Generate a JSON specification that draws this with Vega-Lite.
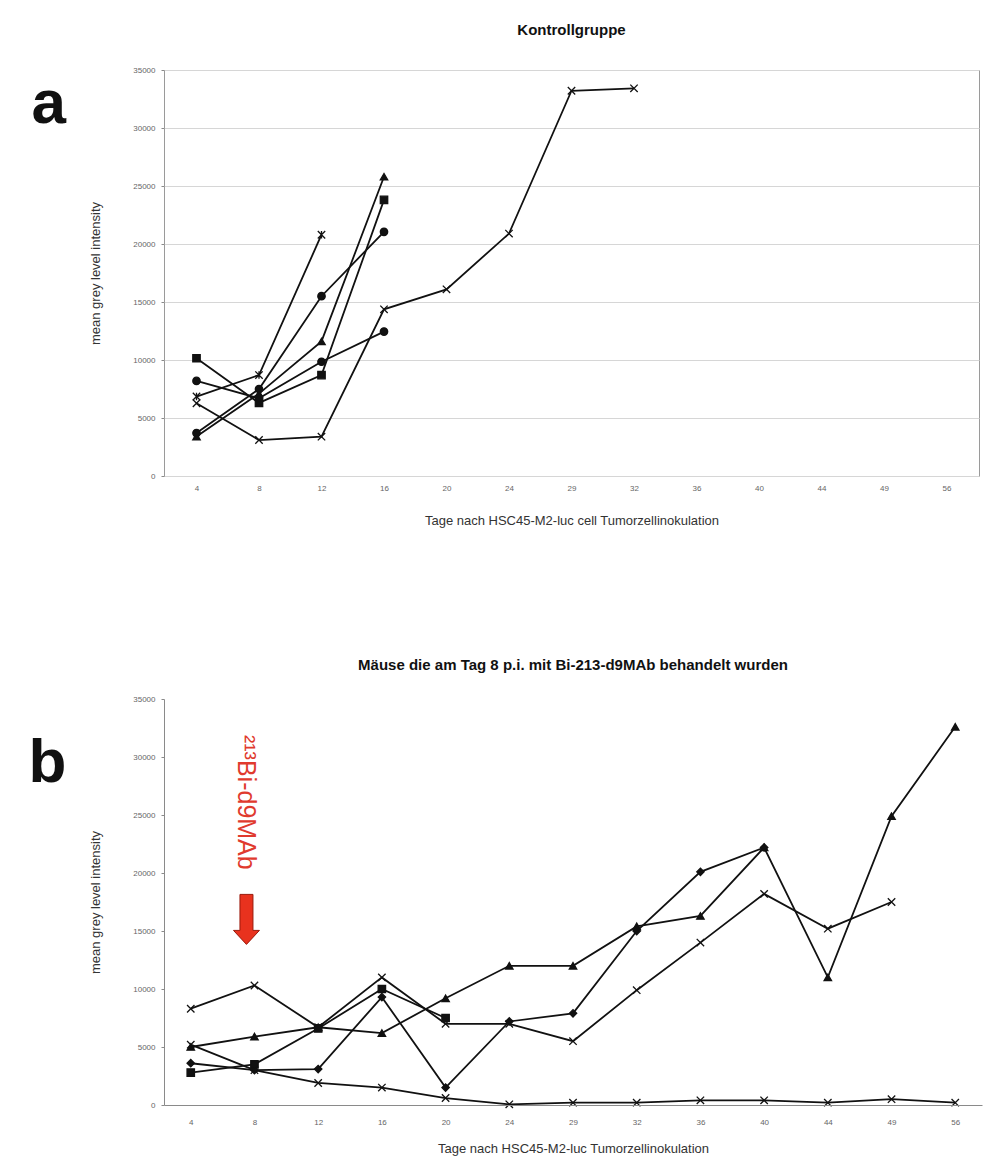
{
  "$schema": "https://vega.github.io/schema/vega-lite/v6.json",
  "background": "white",
  "padding": {"left": 28, "top": 22, "right": 2, "bottom": 5},
  "spacing": 130,
  "config": {
    "font": "Liberation Sans",
    "view": {"stroke": null},
    "axis": {
      "labelFont": "Liberation Sans", "labelFontSize": 8, "labelColor": "#666",
      "titleFont": "Liberation Sans", "titleFontSize": 13, "titleFontWeight": "normal", "titleColor": "#333",
      "gridColor": "#d6d6d6", "domainColor": "#8a8a8a", "tickColor": "#8a8a8a"
    },
    "title": {"font": "Liberation Sans", "fontSize": 15, "fontWeight": "bold", "color": "#111"}
  },
  "datasets": {
    "kontroll": [
      {"maus": "K1", "tag": 4, "wert": 10150}, {"maus": "K1", "tag": 8, "wert": 6300}, {"maus": "K1", "tag": 12, "wert": 8700}, {"maus": "K1", "tag": 16, "wert": 23800},
      {"maus": "K2", "tag": 4, "wert": 8200}, {"maus": "K2", "tag": 8, "wert": 6700}, {"maus": "K2", "tag": 12, "wert": 9850}, {"maus": "K2", "tag": 16, "wert": 12450},
      {"maus": "K3", "tag": 4, "wert": 6850}, {"maus": "K3", "tag": 8, "wert": 8700}, {"maus": "K3", "tag": 12, "wert": 20800},
      {"maus": "K4", "tag": 4, "wert": 3400}, {"maus": "K4", "tag": 8, "wert": 7100}, {"maus": "K4", "tag": 12, "wert": 11600}, {"maus": "K4", "tag": 16, "wert": 25800},
      {"maus": "K5", "tag": 4, "wert": 3700}, {"maus": "K5", "tag": 8, "wert": 7500}, {"maus": "K5", "tag": 12, "wert": 15500}, {"maus": "K5", "tag": 16, "wert": 21050},
      {"maus": "K6", "tag": 4, "wert": 6270}, {"maus": "K6", "tag": 8, "wert": 3100}, {"maus": "K6", "tag": 12, "wert": 3390}, {"maus": "K6", "tag": 16, "wert": 14370},
      {"maus": "K6", "tag": 20, "wert": 16090}, {"maus": "K6", "tag": 24, "wert": 20900}, {"maus": "K6", "tag": 29, "wert": 33210}, {"maus": "K6", "tag": 32, "wert": 33420}
    ],
    "behandelt": [
      {"maus": "B1", "tag": 4, "wert": 8300}, {"maus": "B1", "tag": 8, "wert": 10300}, {"maus": "B1", "tag": 12, "wert": 6700}, {"maus": "B1", "tag": 16, "wert": 11000},
      {"maus": "B1", "tag": 20, "wert": 7000}, {"maus": "B1", "tag": 24, "wert": 7000}, {"maus": "B1", "tag": 29, "wert": 5500}, {"maus": "B1", "tag": 32, "wert": 9900},
      {"maus": "B1", "tag": 36, "wert": 14000}, {"maus": "B1", "tag": 40, "wert": 18200}, {"maus": "B1", "tag": 44, "wert": 15200}, {"maus": "B1", "tag": 49, "wert": 17500},
      {"maus": "B2", "tag": 4, "wert": 5000}, {"maus": "B2", "tag": 8, "wert": 5900}, {"maus": "B2", "tag": 12, "wert": 6700}, {"maus": "B2", "tag": 16, "wert": 6200},
      {"maus": "B2", "tag": 20, "wert": 9200}, {"maus": "B2", "tag": 24, "wert": 12000}, {"maus": "B2", "tag": 29, "wert": 12000}, {"maus": "B2", "tag": 32, "wert": 15400},
      {"maus": "B2", "tag": 36, "wert": 16300}, {"maus": "B2", "tag": 40, "wert": 22200}, {"maus": "B2", "tag": 44, "wert": 11000}, {"maus": "B2", "tag": 49, "wert": 24900},
      {"maus": "B2", "tag": 56, "wert": 32600},
      {"maus": "B3", "tag": 4, "wert": 3600}, {"maus": "B3", "tag": 8, "wert": 3000}, {"maus": "B3", "tag": 12, "wert": 3100}, {"maus": "B3", "tag": 16, "wert": 9300},
      {"maus": "B3", "tag": 20, "wert": 1500}, {"maus": "B3", "tag": 24, "wert": 7200}, {"maus": "B3", "tag": 29, "wert": 7900}, {"maus": "B3", "tag": 32, "wert": 15000},
      {"maus": "B3", "tag": 36, "wert": 20100}, {"maus": "B3", "tag": 40, "wert": 22200},
      {"maus": "B4", "tag": 4, "wert": 2800}, {"maus": "B4", "tag": 8, "wert": 3500}, {"maus": "B4", "tag": 12, "wert": 6600}, {"maus": "B4", "tag": 16, "wert": 10000},
      {"maus": "B4", "tag": 20, "wert": 7500},
      {"maus": "B5", "tag": 4, "wert": 5200}, {"maus": "B5", "tag": 8, "wert": 3000}, {"maus": "B5", "tag": 12, "wert": 1900}, {"maus": "B5", "tag": 16, "wert": 1500},
      {"maus": "B5", "tag": 20, "wert": 600}, {"maus": "B5", "tag": 24, "wert": 60}, {"maus": "B5", "tag": 29, "wert": 200}, {"maus": "B5", "tag": 32, "wert": 200},
      {"maus": "B5", "tag": 36, "wert": 400}, {"maus": "B5", "tag": 40, "wert": 400}, {"maus": "B5", "tag": 44, "wert": 200}, {"maus": "B5", "tag": 49, "wert": 500},
      {"maus": "B5", "tag": 56, "wert": 200}
    ]
  },
  "vconcat": [
    {
      "width": 815,
      "height": 406,
      "title": {"text": "Kontrollgruppe", "offset": 28},
      "view": {"stroke": "#9a9a9a"},
      "data": {"name": "kontroll"},
      "encoding": {
        "x": {
          "field": "tag", "type": "ordinal",
          "scale": {"type": "point", "domain": [4, 8, 12, 16, 20, 24, 29, 32, 36, 40, 44, 49, 56], "padding": 0.52},
          "axis": {"title": "Tage nach HSC45-M2-luc cell Tumorzellinokulation", "labelAngle": 0, "labelPadding": 8, "titlePadding": 22, "ticks": false, "grid": false, "domain": false}
        },
        "y": {
          "field": "wert", "type": "quantitative",
          "scale": {"domain": [0, 35000], "nice": false},
          "axis": {"title": "mean grey level intensity", "values": [0, 5000, 10000, 15000, 20000, 25000, 30000, 35000], "format": "d", "tickSize": 3, "labelPadding": 6, "titlePadding": 30, "domain": false}
        }
      },
      "layer": [
        {"mark": {"type": "line", "color": "#111", "strokeWidth": 1.8}, "encoding": {"detail": {"field": "maus"}}},
        {
          "mark": {"type": "point", "filled": true, "color": "#111", "stroke": "#111", "strokeWidth": 1.3, "size": 55, "opacity": 1},
          "encoding": {
            "shape": {
              "field": "maus", "legend": null,
              "scale": {
                "domain": ["K1", "K2", "K3", "K4", "K5", "K6", "B1", "B2", "B3", "B4", "B5"],
                "range": ["square", "circle", "M-1,-1L1,1M-1,1L1,-1M0,-1L0,1", "triangle-up", "circle", "M-1,-1L1,1M-1,1L1,-1", "M-1,-1L1,1M-1,1L1,-1", "triangle-up", "diamond", "square", "M-1,-1L1,1M-1,1L1,-1"]
              }
            },
            "y": {
              "field": "wert", "type": "quantitative",
              "scale": {"domain": [0, 35000], "nice": false},
              "axis": {"orient": "left", "title": "a", "titleAngle": 0, "titleFontSize": 62, "titleFontWeight": "bold", "titleColor": "#111", "titleX": -133, "titleY": 52, "titleAlign": "left", "titleBaseline": "alphabetic", "labels": false, "ticks": false, "domain": false, "grid": false}
            }
          }
        }
      ],
      "resolve": {"axis": {"y": "independent"}}
    },
    {
      "width": 818,
      "height": 406,
      "title": {"text": "Mäuse die am Tag 8 p.i. mit Bi-213-d9MAb behandelt wurden", "offset": 22},
      "data": {"name": "behandelt"},
      "encoding": {
        "x": {
          "field": "tag", "type": "ordinal",
          "scale": {"type": "point", "domain": [4, 8, 12, 16, 20, 24, 29, 32, 36, 40, 44, 49, 56], "padding": 0.42},
          "axis": {"title": "Tage nach  HSC45-M2-luc Tumorzellinokulation", "labelAngle": 0, "labelPadding": 13, "titlePadding": 16, "ticks": false, "grid": false, "domain": true}
        },
        "y": {
          "field": "wert", "type": "quantitative",
          "scale": {"domain": [0, 35000], "nice": false},
          "axis": {"title": "mean grey level intensity", "values": [0, 5000, 10000, 15000, 20000, 25000, 30000, 35000], "format": "d", "tickSize": 3, "labelPadding": 6, "titlePadding": 30, "domain": true}
        }
      },
      "layer": [
        {
          "data": {"values": [{"tag": 8, "oben": 32000, "unten": 19000}]},
          "mark": {"type": "rect", "color": "white", "width": 74, "xOffset": -8},
          "encoding": {
            "y": {"field": "oben", "type": "quantitative", "axis": null},
            "y2": {"field": "unten"}
          }
        },
        {"mark": {"type": "line", "color": "#111", "strokeWidth": 1.8}, "encoding": {"detail": {"field": "maus"}}},
        {
          "mark": {"type": "point", "filled": true, "color": "#111", "stroke": "#111", "strokeWidth": 1.3, "size": 55, "opacity": 1},
          "encoding": {
            "shape": {
              "field": "maus", "legend": null,
              "scale": {
                "domain": ["K1", "K2", "K3", "K4", "K5", "K6", "B1", "B2", "B3", "B4", "B5"],
                "range": ["square", "circle", "M-1,-1L1,1M-1,1L1,-1M0,-1L0,1", "triangle-up", "circle", "M-1,-1L1,1M-1,1L1,-1", "M-1,-1L1,1M-1,1L1,-1", "triangle-up", "diamond", "square", "M-1,-1L1,1M-1,1L1,-1"]
              }
            },
            "y": {
              "field": "wert", "type": "quantitative",
              "scale": {"domain": [0, 35000], "nice": false},
              "axis": {"orient": "left", "title": "b", "titleAngle": 0, "titleFontSize": 62, "titleFontWeight": "bold", "titleColor": "#111", "titleX": -136, "titleY": 82, "titleAlign": "left", "titleBaseline": "alphabetic", "labels": false, "ticks": false, "domain": false, "grid": false}
            }
          }
        },
        {
          "data": {"values": [{"tag": 8, "wert": 31900, "beschriftung": "²¹³Bi-d9MAb"}]},
          "mark": {"type": "text", "angle": 90, "align": "left", "baseline": "middle", "fontSize": 25, "color": "#e03a2e", "xOffset": -8, "font": "Liberation Sans"},
          "encoding": {
            "text": {"field": "beschriftung"},
            "y": {"field": "wert", "type": "quantitative", "axis": null}
          }
        },
        {
          "data": {"values": [{"tag": 8, "wert": 16000}]},
          "mark": {"type": "point", "shape": "M-0.26,-1L0.26,-1L0.26,0.44L0.52,0.44L0,1L-0.52,0.44L-0.26,0.44Z", "size": 2500, "filled": true, "fill": "#e8321e", "stroke": "#9a1a0c", "strokeWidth": 1, "opacity": 1, "xOffset": -8},
          "encoding": {
            "y": {"field": "wert", "type": "quantitative", "axis": null}
          }
        }
      ],
      "resolve": {"axis": {"y": "independent"}}
    }
  ]
}
